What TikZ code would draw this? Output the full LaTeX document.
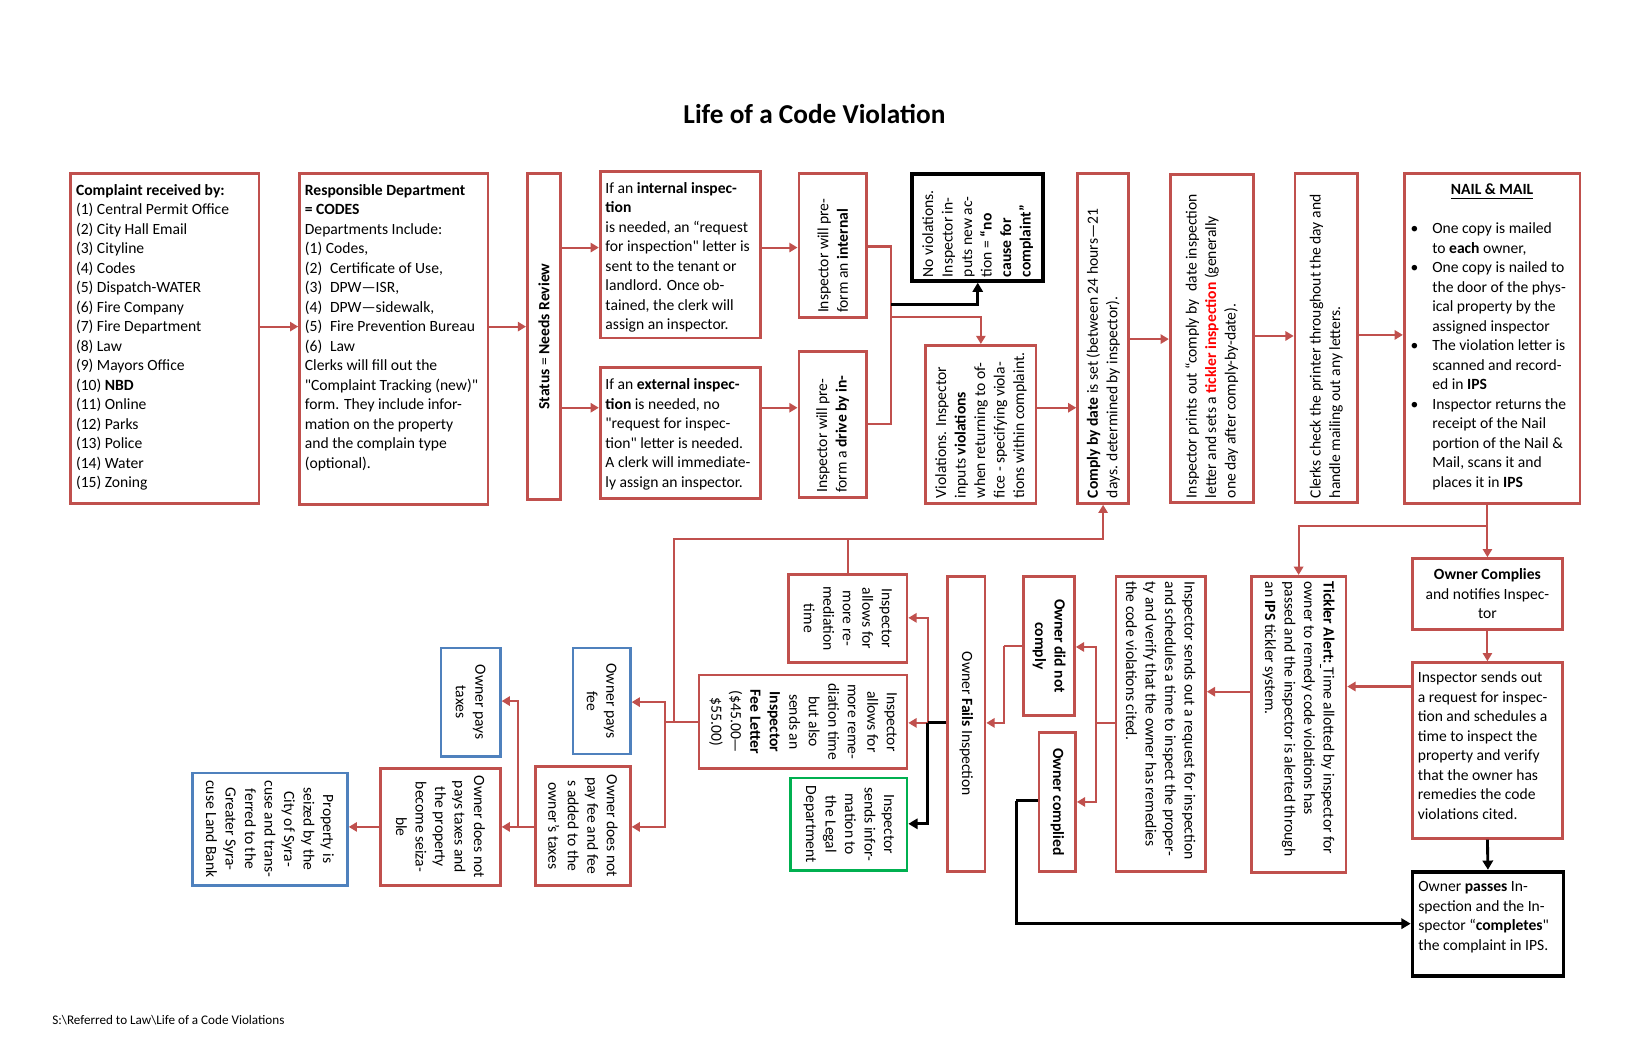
\documentclass[tikz,border=0pt]{standalone}
\usepackage{fontspec}
\setmainfont{Carlito}
\usetikzlibrary{arrows.meta,positioning,fit,calc}
\definecolor{codered}{RGB}{192,80,77}
\definecolor{codeblue}{RGB}{79,129,189}
\definecolor{codegreen}{RGB}{0,176,80}

\begin{document}
\begin{tikzpicture}[x=0.017807cm, y=-0.017807cm,
    redbox/.style={draw=codered, line width=1.3pt, inner sep=0pt},
    bluebox/.style={draw=codeblue, line width=1.3pt, inner sep=0pt},
    greenbox/.style={draw=codegreen, line width=1.3pt, inner sep=0pt},
    blackbox/.style={draw=black, line width=1.8pt, inner sep=0pt},
    txt/.style={inner sep=0pt, align=left, font=\fontsize{7.6}{9.5}\selectfont},
    ctxt/.style={txt, align=center},
    conn/.style={draw=codered, line width=1pt, -{Triangle[length=4pt,width=4.5pt]}},
    wire/.style={draw=codered, line width=1pt},
    bconn/.style={draw=black, line width=1.4pt, -{Triangle[length=4.5pt,width=5pt]}},
    bwire/.style={draw=black, line width=1.4pt}]
    \useasboundingbox (0,0) rectangle (1569,1015);

    \node[font=\fontsize{13.3}{16}\selectfont\bfseries] (title) at (783,110) {Life of a Code Violation};
    \node[font=\fontsize{6.4}{7.5}\selectfont, anchor=west, inner sep=0pt] (path) at (50,981) {S:\textbackslash Referred to Law\textbackslash Life of a Code Violations};

    % top row
    \node[redbox, fit={(68,167) (249,484)}] (recv) {};
    \node[redbox, fit={(288,167) (469,485)}] (dept) {};
    \node[redbox, fit={(507,167) (539,480)}] (status) {};
    \node[redbox, fit={(577,165) (731,325)}] (intl) {};
    \node[redbox, fit={(577,353) (731,479)}] (extl) {};
    \node[redbox, fit={(768,167) (833,305)}] (preint) {};
    \node[redbox, fit={(768,338) (833,478)}] (predrive) {};
    \node[blackbox, fit={(877,167) (1003,270)}] (noviol) {};
    \node[redbox, fit={(890,332) (996,484)}] (viol) {};
    \node[redbox, fit={(1036,167) (1085,484)}] (comply) {};
    \node[redbox, fit={(1125,168) (1205,483)}] (prints) {};
    \node[redbox, fit={(1245,167) (1305,483)}] (clerks) {};
    \node[redbox, fit={(1350,167) (1519,484)}] (nail) {};

    \node[txt, anchor=north west] (recvt) at ([shift={(6,11)}]recv.north west) {\textbf{Complaint received by:}\\(1) Central Permit Office\\(2) City Hall Email\\(3) Cityline\\(4) Codes\\(5) Dispatch-WATER\\(6) Fire Company\\(7) Fire Department\\(8) Law\\(9) Mayors Office\\(10) \textbf{NBD}\\(11) Online\\(12) Parks\\(13) Police\\(14) Water\\(15) Zoning};
    \node[txt, anchor=north west] (deptt) at ([shift={(6,11)}]dept.north west) {\textbf{Responsible Department}\\\textbf{= CODES}\\Departments Include:\\(1) Codes,\\(2)\enspace Certificate of Use,\\(3)\enspace DPW—ISR,\\(4)\enspace DPW—sidewalk,\\(5)\enspace Fire Prevention Bureau\\(6)\enspace Law\\Clerks will fill out the\\\textquotedbl Complaint Tracking (new)\textquotedbl\\form. They include infor-\\mation on the property\\and the complain type\\(optional).};
    \node[ctxt, rotate=90] (statust) at (status.center) {\textbf{Status} = \textbf{Needs Review}};
    \node[txt, anchor=north west] (intlt) at ([shift={(6,11)}]intl.north west) {If an \textbf{internal inspec-}\\\textbf{tion}\\is needed, an “request\\for inspection\textquotedbl\ letter is\\sent to the tenant or\\landlord. Once ob-\\tained, the clerk will\\assign an inspector.};
    \node[txt, anchor=north west] (extlt) at ([shift={(6,12)}]extl.north west) {If an \textbf{external inspec-}\\\textbf{tion} is needed, no\\\textquotedbl request for inspec-\\tion\textquotedbl\ letter is needed.\\A clerk will immediate-\\ly assign an inspector.};
    \node[txt, rotate=90, anchor=west] (preintt) at ([shift={(0,-5)}]preint.south) {Inspector will pre-\\form an \textbf{internal}};
    \node[txt, rotate=90, anchor=west] (predrivet) at ([shift={(0,-5)}]predrive.south) {Inspector will pre-\\form a \textbf{drive by in-}};
    \node[txt, rotate=90, anchor=west] (noviolt) at ([shift={(0,-5)}]noviol.south) {No violations.\\Inspector in-\\puts new ac-\\tion = \textbf{“no}\\\textbf{cause for}\\\textbf{complaint”}};
    \node[txt, rotate=90, anchor=west] (violt) at ([shift={(0,-6)}]viol.south) {Violations. Inspector\\inputs \textbf{violations}\\when returning to of-\\fice - specifying viola-\\tions within complaint.};
    \node[txt, rotate=90, anchor=west] (complyt) at ([shift={(0,-6)}]comply.south) {\textbf{Comply by date} is set (between 24 hours—21\\days. determined by inspector).};
    \node[txt, rotate=90, anchor=west] (printst) at ([shift={(0,-5)}]prints.south) {Inspector prints out “comply by\enspace date inspection\\letter and sets a \textcolor{red}{\textbf{tickler inspection}} (generally\\one day after comply-by-date).};
    \node[txt, rotate=90, anchor=west] (clerkst) at ([shift={(0,-5)}]clerks.south) {Clerks check the printer throughout the day and\\handle mailing out any letters.};
    \node[txt, font=\fontsize{7.6}{9.5}\selectfont\bfseries, anchor=north] (nailh) at ([shift={(0,11)}]nail.north) {\underline{NAIL \& MAIL}};
    \node[txt, anchor=north west] (nailt) at ([shift={(7,48)}]nail.north west) {\makebox[10.6pt][l]{\textbullet}One copy is mailed\\\hspace*{10.6pt}to \textbf{each} owner,\\\makebox[10.6pt][l]{\textbullet}One copy is nailed to\\\hspace*{10.6pt}the door of the phys-\\\hspace*{10.6pt}ical property by the\\\hspace*{10.6pt}assigned inspector\\\makebox[10.6pt][l]{\textbullet}The violation letter is\\\hspace*{10.6pt}scanned and record-\\\hspace*{10.6pt}ed in \textbf{IPS}\\\makebox[10.6pt][l]{\textbullet}Inspector returns the\\\hspace*{10.6pt}receipt of the Nail\\\hspace*{10.6pt}portion of the Nail \&\\\hspace*{10.6pt}Mail, scans it and\\\hspace*{10.6pt}places it in \textbf{IPS}};

    % lower row
    \node[redbox, fit={(1358,537) (1502,605)}] (complies) {};
    \node[redbox, fit={(1358,637) (1502,806)}] (reinsp) {};
    \node[blackbox, fit={(1358,838) (1503,938)}] (passes) {};
    \node[redbox, fit={(1203,554) (1294,839)}] (tickler) {};
    \node[redbox, fit={(1073,554) (1159,838)}] (reqinsp) {};
    \node[redbox, fit={(984,554) (1033,688)}] (notcomply) {};
    \node[redbox, fit={(999,704) (1034,838)}] (complied) {};
    \node[redbox, fit={(911,554) (947,838)}] (fails) {};
    \node[redbox, fit={(758,552) (872,637)}] (moretime) {};
    \node[redbox, fit={(672,649) (872,739)}] (feeletter) {};
    \node[greenbox, fit={(760,748) (872,837)}] (legal) {};
    \node[bluebox, fit={(551,623) (606,725)}] (paysfee) {};
    \node[redbox, fit={(515,737) (606,851)}] (nopayfee) {};
    \node[bluebox, fit={(424,623) (481,727)}] (paystax) {};
    \node[redbox, fit={(366,739) (481,851)}] (nopaytax) {};
    \node[bluebox, fit={(185,743) (334,851)}] (seized) {};

    \node[ctxt] (compliest) at (complies.center) {\textbf{Owner Complies}\\and notifies Inspec-\\tor};
    \node[txt, anchor=north west] (reinspt) at ([shift={(6,10)}]reinsp.north west) {Inspector sends out\\a request for inspec-\\tion and schedules a\\time to inspect the\\property and verify\\that the owner has\\remedies the code\\violations cited.};
    \node[txt, anchor=north west] (passest) at ([shift={(7,11)}]passes.north west) {Owner \textbf{passes} In-\\spection and the In-\\spector “\textbf{completes}\textquotedbl\\the complaint in IPS.};
    \node[txt, rotate=-90, anchor=west] (ticklert) at ([shift={(0,6)}]tickler.north) {\textbf{Tickler Alert:}\underline{\ }Time allotted by inspector for\\owner to remedy code violations has\\passed and the inspector is alerted through\\an \textbf{IPS} tickler system.};
    \node[txt, rotate=-90, anchor=west] (reqinspt) at ([shift={(0,6)}]reqinsp.north) {Inspector sends out a request for inspection\\and schedules a time to inspect the proper-\\ty and verify that the owner has remedies\\the code violations cited.};
    \node[ctxt, rotate=-90] (notcomplyt) at (notcomply.center) {\textbf{Owner did not}\\\textbf{comply}};
    \node[ctxt, rotate=-90] (compliedt) at (complied.center) {\textbf{Owner complied}};
    \node[ctxt, rotate=-90] (failst) at (fails.center) {Owner \textbf{Fails} Inspection};
    \node[ctxt, rotate=-90] (moretimet) at (moretime.center) {Inspector\\allows for\\more re-\\mediation\\time};
    \node[ctxt, rotate=-90] (feelettert) at (feeletter.center) {Inspector\\allows for\\more reme-\\diation time\\but also\\sends an\\\textbf{Inspector}\\\textbf{Fee Letter}\\(\$45.00—\\\$55.00)};
    \node[ctxt, rotate=-90] (legalt) at (legal.center) {Inspector\\sends infor-\\mation to\\the Legal\\Department};
    \node[ctxt, rotate=-90] (paysfeet) at (paysfee.center) {Owner pays\\fee};
    \node[ctxt, rotate=-90] (nopayfeet) at (nopayfee.center) {Owner does not\\pay fee and fee\\s added to the\\owner’s taxes};
    \node[ctxt, rotate=-90] (paystaxt) at (paystax.center) {Owner pays\\taxes};
    \node[ctxt, rotate=-90] (nopaytaxt) at (nopaytax.center) {Owner does not\\pays taxes and\\the property\\become seiza-\\ble};
    \node[ctxt, rotate=-90] (seizedt) at (seized.center) {Property is\\seized by the\\City of Syra-\\cuse and trans-\\ferred to the\\Greater Syra-\\cuse Land Bank};

    % bends
    \coordinate (bus1) at (857,237);
    \coordinate (bus2) at (857,408);
    \coordinate (busb) at (857,293);
    \coordinate (busr) at (857,305);
    \coordinate (split) at (complies.north |- 0,506);
    \coordinate (fork1) at (1054,695);
    \coordinate (fork2) at (965,621);
    \coordinate (fork3) at (977,770);
    \coordinate (fork4) at (892,695);
    \coordinate (loopa) at (648,694);
    \coordinate (loopb) at (648,518);
    \coordinate (fork5) at (639,694);
    \coordinate (fork6) at (498,795);

    % top connectors
    \draw[conn] (recv.east |- 0,314) -- (dept.west |- 0,314);
    \draw[conn] (dept.east |- 0,314) -- (status.west |- 0,314);
    \draw[conn] (status.east |- 0,238) -- (intl.west |- 0,238);
    \draw[conn] (status.east |- 0,392) -- (extl.west |- 0,392);
    \draw[conn] (intl.east |- 0,238) -- (preint.west |- 0,238);
    \draw[conn] (extl.east |- 0,392) -- (predrive.west |- 0,392);
    \draw[wire] (preint.east |- bus1) -- (bus1) -- (bus2) -- (predrive.east |- bus2);
    \draw[conn] (busr) -| (viol.north);
    \draw[bconn] (busb) -| (noviol.south);
    \draw[conn] (viol.east |- 0,392) -- (comply.west |- 0,392);
    \draw[conn] (comply.east |- 0,326) -- (prints.west |- 0,326);
    \draw[conn] (prints.east |- 0,323) -- (clerks.west |- 0,323);
    \draw[conn] (clerks.east |- 0,322) -- (nail.west |- 0,322);

    % lower connectors
    \draw[conn] (complies.north |- nail.south) -- (complies.north);
    \draw[conn] (split) -| (tickler.north);
    \draw[conn] (complies.south) -- (reinsp.north);
    \draw[bconn] (reinsp.south) -- (passes.north);
    \draw[conn] (reinsp.west |- 0,660) -- (tickler.east |- 0,660);
    \draw[conn] (tickler.west |- 0,665) -- (reqinsp.east |- 0,665);
    \draw[wire] (reqinsp.west |- fork1) -- (fork1);
    \draw[conn] (fork1) |- (notcomply.east |- 0,622);
    \draw[conn] (fork1) |- (complied.east |- 0,771);
    \draw[wire] (notcomply.west |- fork2) -- (fork2);
    \draw[conn] (fork2) |- (fails.east |- 0,695);
    \draw[bwire] (complied.west |- fork3) -- (fork3);
    \draw[bconn] (fork3) |- (passes.west |- 0,888);
    \draw[conn] (fork4) |- (moretime.east |- 0,594);
    \draw[conn] (fork4) -- (feeletter.east |- fork4);
    \draw[bwire] (fails.west |- fork4) -- (fork4);
    \draw[bconn] (fork4) |- (legal.east |- 0,792);
    \draw[wire] (moretime.north) -- (moretime.north |- loopb);
    \draw[conn] (feeletter.west |- loopa) -- (loopa) -- (loopb) -| (comply.south);
    \draw[wire] (loopa) -- (fork5);
    \draw[conn] (fork5) |- (paysfee.east |- 0,675);
    \draw[conn] (fork5) |- (nopayfee.east |- 0,795);
    \draw[wire] (nopayfee.west |- fork6) -- (fork6);
    \draw[conn] (fork6) -- (nopaytax.east |- fork6);
    \draw[conn] (fork6) |- (paystax.east |- 0,674);
    \draw[conn] (nopaytax.west |- fork6) -- (seized.east |- fork6);
\end{tikzpicture}
\end{document}
